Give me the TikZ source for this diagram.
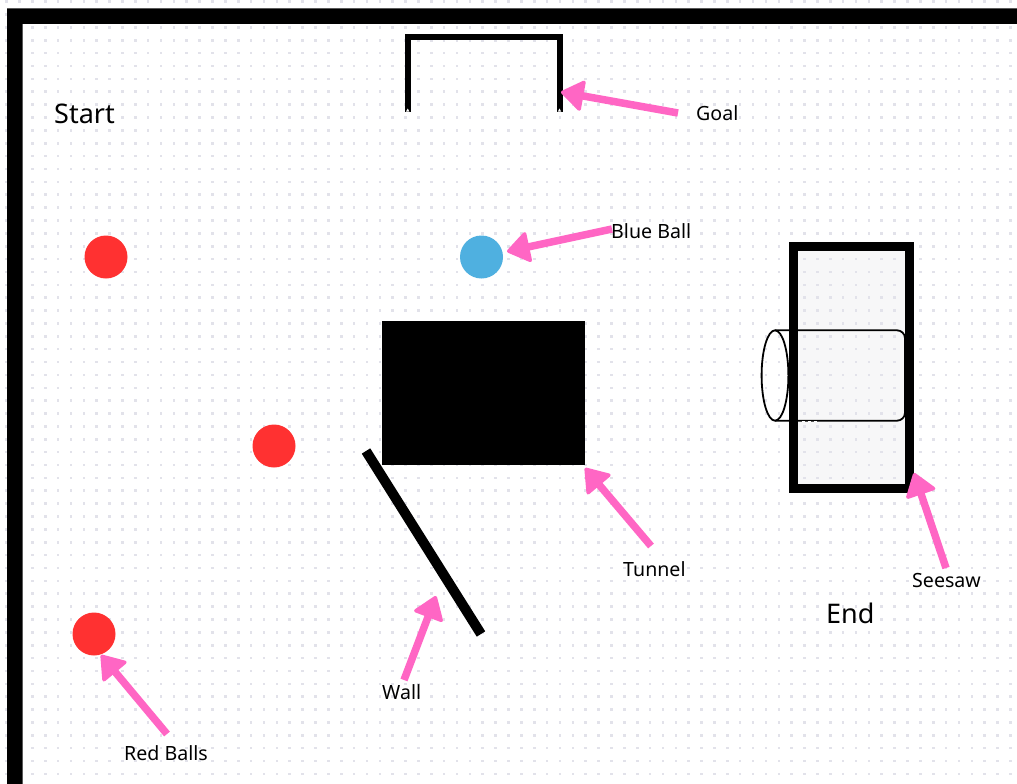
\documentclass[tikz,border=0pt]{standalone}
\usepackage{fontspec}
\setmainfont{Noto Sans}
\usetikzlibrary{arrows.meta}
\definecolor{ballred}{HTML}{FF3131}
\definecolor{ballblue}{HTML}{4FB0E0}
\definecolor{callout}{HTML}{FF66C4}
\definecolor{griddot}{HTML}{E2E2EA}
\definecolor{panel}{HTML}{F7F7F8}
\tikzset{
  px/.style={x=1pt,y=-1pt},
  ball/.style={circle,minimum size=43pt,inner sep=0pt,fill=#1},
  bigtext/.style={font=\fontsize{27}{31}\selectfont,inner sep=0pt,text=black},
  smalltext/.style={font=\fontsize{19.6}{23}\selectfont,inner sep=0pt,text=black},
  callarrow/.style={draw=callout,line width=7.5pt,
    -{Triangle[length=24pt,width=33pt,round,line width=3.5pt]}},
  solidblock/.style={draw=none,fill=black,inner sep=0pt},
}
\begin{document}
\begin{tikzpicture}[px]
\useasboundingbox (0,0) rectangle (1017,784);
\fill[white] (0,0) rectangle (1017,784);
% seesaw panel under the dot grid
\fill[panel] (793,246) rectangle (909,488);
% dot grid
\foreach \i in {0,...,79}{
  \foreach \j in {0,...,60}{
    \fill[griddot] ({6.6+12.87*\i-1.3},{1.7+12.87*\j-1.3}) rectangle +(2.6,2.6);
  }
}
% outer frame
\fill[black] (7,784) -- (7,8.3) -- (1017,8.3) -- (1017,24) -- (22.7,24) -- (22.7,784) -- cycle;
% goal
\draw[black,line width=6pt,miter limit=10] (407.7,111.5) -- (407.7,37.3) -- (559.5,37.3) -- (559.5,111.5);
\fill[white] (406,111.6) -- (407.7,108.5) -- (409.4,111.6) -- cycle;
\fill[white] (557.8,111.6) -- (559.5,108.5) -- (561.2,111.6) -- cycle;
% balls
\node[ball=ballred] (redA) at (106,257) {};
\node[ball=ballred] (redB) at (274,446) {};
\node[ball=ballred] (redC) at (94,634) {};
\node[ball=ballblue] (blue) at (481.5,257) {};
% tunnel
\node[solidblock,minimum width=203pt,minimum height=144pt] (tunnel) at (483.5,393) {};
% wall
\coordinate (wallA) at (366,451);
\coordinate (wallB) at (481,634);
\draw[black,line width=10pt] (wallA) -- (wallB);
% seesaw
\draw[black,line width=9pt] (793.5,246.3) rectangle (909.2,488);
\draw[black,line width=1.8pt] (775,330.3) -- (897,330.3) arc[start angle=-90,end angle=0,radius=8] -- (905,412.7) arc[start angle=0,end angle=90,radius=8] -- (775,420.7);
\draw[black,line width=1.8pt] (775,375.5) ellipse[x radius=13.4,y radius=45.2];
\draw[white,line width=1pt,dash pattern=on 3pt off 3pt] (802,421.8) -- (820,421.8);
% labels
\node[bigtext,anchor=base west] (start) at (54,123) {Start};
\node[bigtext,anchor=base west] (endlbl) at (826,623) {End};
\node[smalltext,anchor=base west] (goal) at (696,120) {Goal};
\node[smalltext,anchor=base west] (bluelbl) at (611,238) {Blue Ball};
\node[smalltext,anchor=base west] (tunnellbl) at (623,576) {Tunnel};
\node[smalltext,anchor=base west] (seesawlbl) at (912,587) {Seesaw};
\node[smalltext,anchor=base west] (walllbl) at (382,699) {Wall};
\node[smalltext,anchor=base west] (redlbl) at (124,760) {Red Balls};
% arrow ends
\coordinate (goalT) at (678,113);
\coordinate (goalH) at (561,92);
\coordinate (blueT) at (612,229);
\coordinate (blueH) at (507,251.5);
\coordinate (tunT) at (651,546);
\coordinate (tunH) at (585,468);
\coordinate (seeT) at (946,568);
\coordinate (seeH) at (914,473);
\coordinate (walT) at (404,680);
\coordinate (walH) at (436,596);
\coordinate (redT) at (167,734);
\coordinate (redH) at (101,655);
\draw[callarrow] (goalT) -- (goalH);
\draw[callarrow] (blueT) -- (blueH);
\draw[callarrow] (tunT) -- (tunH);
\draw[callarrow] (seeT) -- (seeH);
\draw[callarrow] (walT) -- (walH);
\draw[callarrow] (redT) -- (redH);
\end{tikzpicture}
\end{document}
